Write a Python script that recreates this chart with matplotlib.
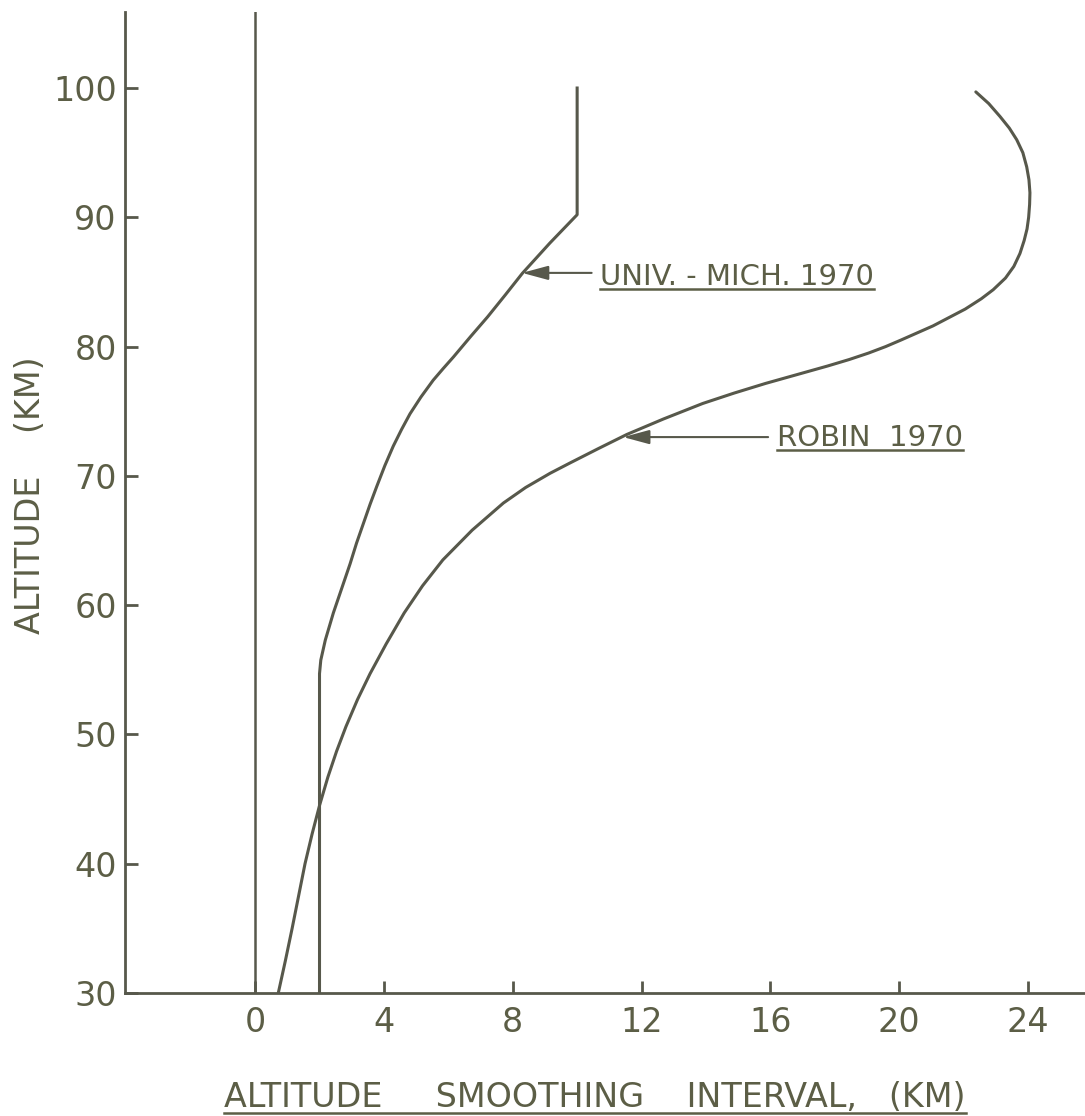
import matplotlib
matplotlib.use("Agg")
import matplotlib.pyplot as plt
from matplotlib.lines import Line2D

# ---- data ----
mich_alt = [30, 54.7, 55.75, 57.3, 59.4, 61.3, 63.2, 64.8, 66.3, 67.8, 69.2, 70.8, 72.3, 73.6, 74.8, 76.1, 77.4, 78.3,
            79.2, 80.8, 82.3, 84.0, 85.67, 88.0, 90.2, 100]
mich_x   = [2.0, 2.0, 2.04, 2.18, 2.43, 2.69, 2.95, 3.15, 3.36, 3.57, 3.78, 4.03, 4.29, 4.55, 4.81, 5.15, 5.53, 5.84,
            6.16, 6.70, 7.22, 7.77, 8.30, 9.15, 10.0, 10.0]

robin_alt = [30, 32.5, 35, 37.5, 40, 42.3, 44.5, 46.7, 48.7, 50.6, 52.7, 54.7, 57.0, 59.4, 61.5, 63.5, 65.8, 67.9,
             69.1, 70.2, 71.0, 72.1, 73.2, 74.4, 75.6, 76.4, 77.15, 77.8, 78.5, 79.0, 79.5, 80.0, 80.5, 81.6, 82.9,
             83.7, 84.4, 85.3, 86.2, 87.2, 88.2, 89.1, 90.0, 91.0, 91.9, 92.9, 93.9, 95.0, 96.0, 96.9, 97.8, 98.8, 99.7]
robin_x   = [0.72, 0.94, 1.15, 1.35, 1.55, 1.77, 2.0, 2.26, 2.53, 2.82, 3.18, 3.57, 4.07, 4.63, 5.2, 5.83, 6.74, 7.71,
             8.40, 9.16, 9.78, 10.65, 11.54, 12.68, 13.9, 14.87, 15.85, 16.78, 17.78, 18.45, 19.05, 19.58, 20.05,
             21.05, 22.05, 22.55, 22.92, 23.3, 23.56, 23.75, 23.88, 23.97, 24.02, 24.05, 24.06, 24.03, 23.96, 23.84,
             23.65, 23.42, 23.13, 22.78, 22.38]

x_ticks = [0, 4, 8, 12, 16, 20, 24]
y_ticks = [30, 40, 50, 60, 70, 80, 90, 100]

mich_label = "UNIV. - MICH. 1970"
robin_label = "ROBIN  1970"
xlabel = "ALTITUDE     SMOOTHING    INTERVAL,   (KM)"
ylabel = "ALTITUDE    (KM)"

# ---- style ----
LINE = "#57584b"
TXT = "#5c5e46"
plt.rcParams['font.family'] = ['DejaVu Sans']

W, H = 1085, 1116
fig = plt.figure(figsize=(W / 100, H / 100), dpi=100)
ax = fig.add_axes([125 / W, (H - 993) / H, 960 / W, 981 / H])

ax.set_xlim(-4.04, 25.77)
ax.set_ylim(30, 105.88)

for s in ('top', 'right'):
    ax.spines[s].set_visible(False)
for s in ('left', 'bottom'):
    ax.spines[s].set_color(LINE)
    ax.spines[s].set_linewidth(2.0)

ax.axvline(0, color=LINE, lw=1.8)
ax.plot(mich_x, mich_alt, color=LINE, lw=2.2, solid_joinstyle='round')
ax.plot(robin_x, robin_alt, color=LINE, lw=2.2, solid_capstyle='round', solid_joinstyle='round')

ax.set_xticks(x_ticks)
ax.set_yticks(y_ticks)
ax.set_xticklabels([str(v) for v in x_ticks])
ax.set_yticklabels([str(v) for v in y_ticks])
ax.tick_params(axis='both', direction='in', length=9, width=2, color=LINE,
               labelcolor=TXT, labelsize=24)
ax.tick_params(axis='x', pad=9)
ax.tick_params(axis='y', pad=6)

# annotations with arrows
arrow = dict(arrowstyle="-|>,head_length=1.0,head_width=0.27", color=LINE, lw=1.5,
             shrinkA=0, shrinkB=0, mutation_scale=16)
ax.annotate('', xy=(8.29, 85.7), xytext=(10.45, 85.7), arrowprops=arrow)
ax.annotate('', xy=(11.43, 73.0), xytext=(15.93, 73.0), arrowprops=arrow)

t1 = ax.text(10.71, 84.76, mich_label, color=TXT, fontsize=21, va='baseline', ha='left')
t2 = ax.text(16.2, 72.31, robin_label, color=TXT, fontsize=21, va='baseline', ha='left')

tx = fig.text(595 / W, (H - 1107) / H, xlabel, color=TXT, fontsize=24, ha='center', va='baseline')
ty = fig.text(30 / W, 1 - 495 / H, ylabel, color=TXT, fontsize=24, ha='center', va='center', rotation=90)

# underlines
fig.canvas.draw()
r = fig.canvas.get_renderer()
inv = fig.transFigure.inverted()


def underline(t, ypix):
    bb = t.get_window_extent(r)
    (x0, y0), (x1, y1) = inv.transform([(bb.x0, H - ypix), (bb.x1, H - ypix)])
    fig.add_artist(Line2D([x0, x1], [y0, y1], transform=fig.transFigure, color=TXT, lw=1.8))


underline(t1, 289)
underline(t2, 450)
underline(tx, 1113)

fig.savefig("out.png", dpi=100, facecolor='white')
